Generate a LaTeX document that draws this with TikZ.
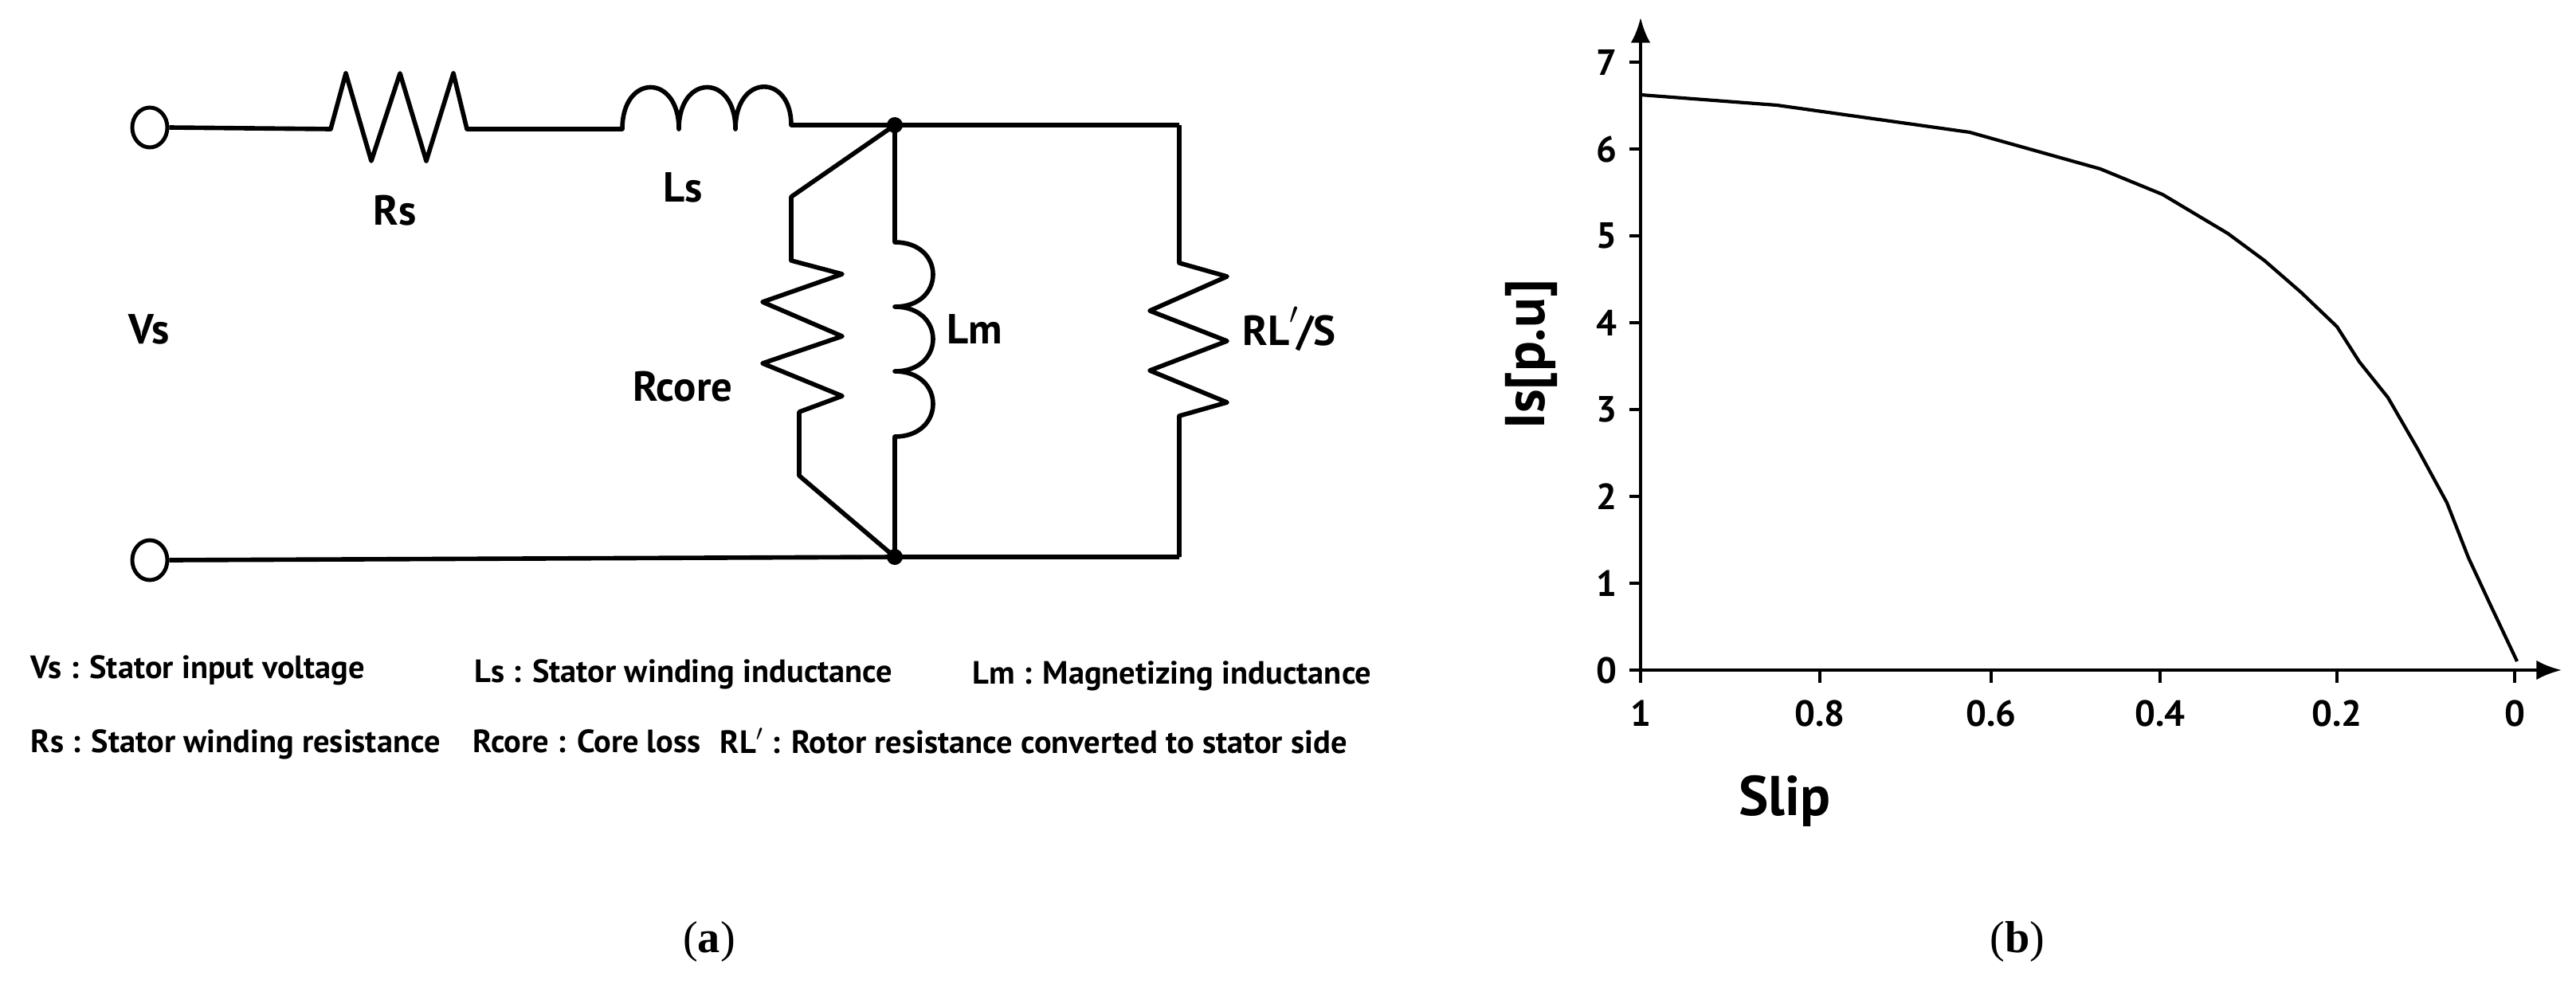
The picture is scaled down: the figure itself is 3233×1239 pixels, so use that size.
\documentclass[tikz,border=0pt]{standalone}
\usepackage{fontspec}
\usetikzlibrary{shapes.geometric,arrows.meta}
\setmainfont{PT Sans}
\newfontfamily\seriffam{Liberation Serif}
\begin{document}
\begin{tikzpicture}[x=0.01cm,y=-0.01cm,
  wire/.style={line width=1.6pt,line join=round},
  lbl/.style={font=\fontsize{15}{17}\selectfont\bfseries,inner sep=0},
  leg/.style={font=\fontsize{11.5}{13}\selectfont\bfseries,anchor=west,inner sep=0},
  ax/.style={line width=1.3pt},
  tk/.style={font=\fontsize{13}{15}\selectfont\bfseries,inner sep=0},
  term/.style={draw,line width=1.4pt,ellipse,minimum width=0.44cm,minimum height=0.5cm,inner sep=0}]
\useasboundingbox (0,0) rectangle (3233,1239);
% terminals
\node[term] (t1) at (188,160) {};
\node[term] (t2) at (188,703) {};
\coordinate (j1) at (1123,157);
\coordinate (j2) at (1123,699);
\coordinate (tr) at (1480,157);
\coordinate (br) at (1480,699);
% top branch
\draw[wire] (t1.east) -- (415,162) -- (434,92) -- (466,202) -- (502,92) -- (535,202) -- (569,92) -- (586,162) -- (781,162)
  .. controls (781,92) and (852,92) .. (852,162)
  .. controls (852,92) and (923,92) .. (923,162)
  .. controls (923,92) and (993,92) .. (993,157) -- (j1) -- (tr);
% bottom
\draw[wire] (t2.east) -- (j2) -- (br);
% RL
\draw[wire] (tr) -- (1480,330) -- (1540,347) -- (1443,390) -- (1540,428) -- (1443,465) -- (1540,505) -- (1480,522) -- (br);
% Lm
\draw[wire] (j1) -- (1123,304)
  .. controls (1187,304) and (1187,385) .. (1123,385)
  .. controls (1187,385) and (1187,466) .. (1123,466)
  .. controls (1187,466) and (1187,548) .. (1123,548) -- (j2);
% Rcore
\draw[wire] (j1) -- (993,247) -- (993,327) -- (1057,344) -- (957,379) -- (1057,422) -- (957,456) -- (1057,497) -- (1003,517) -- (1003,597) -- (j2);
\fill (j1) circle (10);
\fill (j2) circle (10);
% labels
\node[lbl] (lrs) at (496,264) {Rs};
\node[lbl] (lls) at (857,235) {Ls};
\node[lbl] (lvs) at (187,413) {Vs};
\node[lbl] (lrc) at (857,485) {Rcore};
\node[lbl] (llm) at (1223,413) {Lm};
\node[lbl] (lrl) at (1618,413) {RL\rlap{\raisebox{0.35ex}{$'$}}\,/S};
% legend
\node[leg] (g1) at (38,841) {Vs : Stator input voltage};
\node[leg] (g2) at (595,846) {Ls : Stator winding inductance};
\node[leg] (g3) at (1220,848) {Lm : Magnetizing inductance};
\node[leg] (g4) at (38,934) {Rs : Stator winding resistance};
\node[leg] (g5) at (593,930) {Rcore : Core loss};
\node[leg] (g6) at (903,930) {RL$'$ : Rotor resistance converted to stator side};
\node[font=\seriffam\fontsize{16}{18}\selectfont] (ca) at (890,1182) {(\textbf{a})};
\node[font=\seriffam\fontsize{16}{18}\selectfont] (cb) at (2532,1182) {(\textbf{b})};
% graph
\coordinate (o) at (2059,841);
\coordinate (ytop) at (2059,22);
\coordinate (xend) at (3215,841);
\draw[ax,-{Latex[length=9pt,width=7pt]}] (o) -- (ytop);
\draw[ax,-{Latex[length=9pt,width=7pt]}] (o) -- (xend);
\foreach \v in {0,...,7}{
  \draw[ax] (2045,841-109*\v) -- (2059,841-109*\v);
  \node[tk,anchor=east] at (2030,841-109*\v) {\v};}
\foreach \xx/\t in {2059/1,2284/0.8,2499/0.6,2711/0.4,2933/0.2,3156/0}{
  \draw[ax] (\xx,841) -- (\xx,857);
  \node[tk] at (\xx,895) {\t};}
\node[font=\fontsize{20}{22}\selectfont\bfseries] (xl) at (2240,1005) {Slip};
\node[font=\fontsize{20}{22}\selectfont\bfseries,rotate=90] (yl) at (1922,445) {Is[p.u]};
\draw[line width=1.2pt,line join=round] plot coordinates {(2059,119) (2230,132) (2472,166) (2636,212) (2714,244) (2796,293) (2842,327) (2888,367) (2933,410) (2961,454) (2997,499) (3034,563) (3071,631) (3098,700) (3125,758) (3159,830)};
\end{tikzpicture}
\end{document}
